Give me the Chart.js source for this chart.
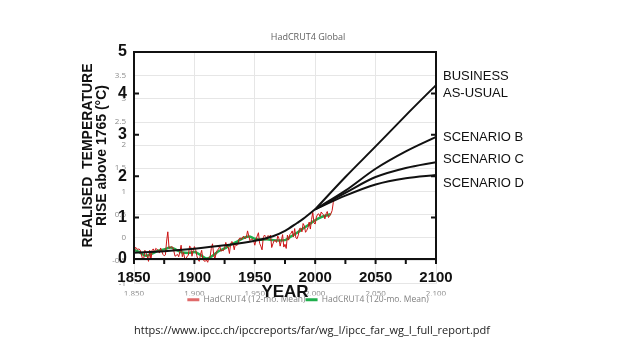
<!DOCTYPE html>
<html>
<head>
<meta charset="utf-8">
<script src="https://cdn.jsdelivr.net/npm/chart.js@4.4.1/dist/chart.umd.min.js"></script>
<style>
  body { margin: 0; background: #fff; }
  #wrap { position: relative; width: 640px; height: 360px; }
  #wrap canvas { position: absolute; left: 0; top: 0; }
  #src { position: absolute; left: 134px; top: 322px; font: 11px "Open Sans", sans-serif; color: #222; }
</style>
</head>
<body>
<div id="wrap">
  <canvas id="hadChart" width="640" height="360"></canvas>
  <canvas id="ipccChart" width="640" height="360"></canvas>
  <div id="src">https://www.ipcc.ch/ipccreports/far/wg_I/ipcc_far_wg_I_full_report.pdf</div>
</div>
<script>
// HadCRUT4 global anomaly, 12-month mean, one value per year from 1850
const hadStartYear = 1850;
const had12mo = [
  -0.37, -0.22, -0.23, -0.27, -0.25, -0.27, -0.36, -0.46, -0.47, -0.28,
  -0.34, -0.41, -0.52, -0.28, -0.49, -0.28, -0.25, -0.32, -0.24, -0.26,
  -0.28, -0.34, -0.23, -0.30, -0.37, -0.40, -0.38, -0.08, 0.12, -0.23,
  -0.23, -0.20, -0.21, -0.30, -0.41, -0.39, -0.37, -0.42, -0.31, -0.17,
  -0.42, -0.33, -0.46, -0.47, -0.41, -0.39, -0.19, -0.21, -0.41, -0.29,
  -0.20, -0.26, -0.40, -0.48, -0.52, -0.38, -0.28, -0.47, -0.51, -0.52,
  -0.49, -0.54, -0.44, -0.42, -0.24, -0.14, -0.38, -0.47, -0.33, -0.28,
  -0.25, -0.19, -0.30, -0.28, -0.29, -0.22, -0.11, -0.21, -0.21, -0.35,
  -0.14, -0.09, -0.14, -0.27, -0.13, -0.18, -0.15, -0.03, -0.01, -0.05,
  0.01, 0.02, -0.03, 0.00, 0.14, 0.03, -0.07, -0.04, -0.04, -0.07,
  -0.17, -0.05, 0.03, 0.10, -0.13, -0.19, -0.27, -0.01, 0.05, 0.02,
  -0.05, 0.04, 0.01, 0.05, -0.22, -0.14, -0.07, -0.07, -0.11, 0.03,
  -0.03, -0.19, -0.07, 0.06, -0.21, -0.15, -0.24, 0.05, -0.06, 0.06,
  0.09, 0.14, 0.01, 0.19, -0.01, -0.03, 0.05, 0.19, 0.20, 0.12,
  0.30, 0.25, 0.11, 0.15, 0.21, 0.33, 0.18, 0.39, 0.54, 0.31,
  0.29, 0.44, 0.50, 0.51, 0.45, 0.55, 0.51, 0.49, 0.40, 0.51,
  0.56, 0.43, 0.47, 0.51, 0.58, 0.76, 0.85
];

// HadCRUT4 120-month mean
const had120moYears = [1850, 1855, 1860, 1865, 1870, 1875, 1880, 1885, 1890, 1895,
  1900, 1905, 1910, 1915, 1920, 1925, 1930, 1935, 1940, 1945, 1950, 1955, 1960,
  1965, 1970, 1975, 1980, 1985, 1990, 1995, 2000, 2005, 2010, 2013];
const had120mo = [-0.27, -0.33, -0.40, -0.35, -0.29, -0.26, -0.22, -0.27, -0.33, -0.34,
  -0.32, -0.38, -0.46, -0.40, -0.30, -0.24, -0.16, -0.10, -0.02, 0.02, -0.03, -0.05, -0.04,
  -0.06, -0.07, -0.06, 0.02, 0.10, 0.19, 0.28, 0.37, 0.44, 0.48, 0.51];

// IPCC 1990 (FAR) realised temperature rise above 1765
const histYears = [1850, 1875, 1900, 1925, 1950, 1965, 1975, 1985, 1990, 2000];
const histRise = [0.15, 0.19, 0.25, 0.33, 0.44, 0.55, 0.68, 0.87, 0.97, 1.2];
const scenYears = [2000, 2025, 2050, 2075, 2100];
const bauRise = [1.2, 1.98, 2.72, 3.47, 4.2];
const scenBRise = [1.2, 1.65, 2.18, 2.6, 2.95];
const scenCRise = [1.2, 1.6, 1.98, 2.2, 2.34];
const scenDRise = [1.2, 1.53, 1.8, 1.95, 2.03];
const scenLabels = [['BUSINESS', 'AS-USUAL'], ['SCENARIO B'], ['SCENARIO C'], ['SCENARIO D']];

const toPoints = (xs, ys) => xs.map((x, i) => ({ x: x, y: ys[i] }));
const hadPoints = had12mo.map((v, i) => ({ x: hadStartYear + i, y: v }));

const grayTick = { color: '#8c8c8c', font: { family: 'Open Sans', size: 8 } };

// HadCRUT4 chart (background)
new Chart(document.getElementById('hadChart'), {
  type: 'line',
  data: {
    datasets: [
      { label: 'HadCRUT4 (12-mo. Mean)', data: hadPoints, borderColor: '#cc1414', borderWidth: 1, pointRadius: 0 },
      { label: 'HadCRUT4 (120-mo. Mean)', data: toPoints(had120moYears, had120mo), borderColor: '#1fae4c',
        borderWidth: 2.5, pointRadius: 0, cubicInterpolationMode: 'monotone' }
    ]
  },
  options: {
    responsive: false,
    animation: false,
    events: [],
    layout: { padding: { left: 0, right: 24, top: 0, bottom: 46 } },
    plugins: {
      title: { display: true, text: 'HadCRUT4 Global', color: '#5f5f5f',
        font: { family: 'Open Sans', size: 9, weight: 'normal' }, padding: { top: 32, bottom: 10 } },
      legend: {
        position: 'bottom',
        labels: {
          color: '#808080', font: { family: 'Open Sans', size: 8.5 }, boxWidth: 12, boxHeight: 3, padding: 0,
          generateLabels(chart) {
            const items = Chart.defaults.plugins.legend.labels.generateLabels(chart);
            items.forEach((it, i) => { it.fillStyle = i === 0 ? '#e06a6a' : '#1fae4c'; it.lineWidth = 0; });
            return items;
          }
        }
      },
      tooltip: { enabled: false }
    },
    scales: {
      x: {
        type: 'linear', min: 1850, max: 2100,
        ticks: { ...grayTick, stepSize: 50, padding: 5, maxRotation: 0 },
        grid: { color: '#e6e6e6', drawTicks: false },
        border: { display: false },
        afterFit: s => { s.height = 12; }
      },
      y: {
        min: -1, max: 4,
        ticks: { ...grayTick, stepSize: 0.5, padding: 8, callback: v => (v === 4 ? '' : v) },
        grid: { color: '#e6e6e6', drawTicks: false },
        border: { display: false },
        afterFit: s => { s.width = 134; }
      },
      yR: {
        position: 'right', display: true,
        ticks: { display: false }, grid: { display: false }, border: { display: false },
        afterFit: s => { s.width = 180; }
      }
    }
  }
});

// frame, inside ticks and scenario names of the IPCC figure
const ipccFrame = {
  id: 'ipccFrame',
  afterDraw(chart) {
    const { ctx, chartArea: a } = chart;
    const { x, y } = chart.scales;
    ctx.save();
    ctx.strokeStyle = '#111';
    ctx.lineWidth = 2;
    ctx.strokeRect(a.left, a.top, a.right - a.left, a.bottom - a.top);
    ctx.beginPath();
    y.ticks.forEach(t => {
      const py = y.getPixelForValue(t.value);
      ctx.moveTo(a.left, py); ctx.lineTo(a.left + 5, py);
      ctx.moveTo(a.right, py); ctx.lineTo(a.right - 5, py);
    });
    x.ticks.forEach(t => {
      const px = x.getPixelForValue(t.value);
      ctx.moveTo(px, a.bottom); ctx.lineTo(px, a.bottom + 5);
    });
    ctx.stroke();

    const ends = [bauRise, scenBRise, scenCRise, scenDRise].map(s => s[s.length - 1]);
    const dy = [-9, 1, -3, 8];
    ctx.fillStyle = '#111';
    ctx.font = '13px "Liberation Sans"';
    ctx.textBaseline = 'middle';
    scenLabels.forEach((lines, i) => {
      const py = y.getPixelForValue(ends[i]) + dy[i];
      lines.forEach((txt, j) => ctx.fillText(txt, a.right + 7, py + j * 17));
    });
    ctx.restore();
  }
};

const blackLine = { borderColor: '#111', borderWidth: 2, pointRadius: 0, cubicInterpolationMode: 'monotone' };

// IPCC FAR figure (overlay)
new Chart(document.getElementById('ipccChart'), {
  type: 'line',
  data: {
    datasets: [
      { label: 'Observed', data: toPoints(histYears, histRise), ...blackLine },
      { label: 'Business-as-usual', data: toPoints(scenYears, bauRise), ...blackLine },
      { label: 'Scenario B', data: toPoints(scenYears, scenBRise), ...blackLine },
      { label: 'Scenario C', data: toPoints(scenYears, scenCRise), ...blackLine },
      { label: 'Scenario D', data: toPoints(scenYears, scenDRise), ...blackLine }
    ]
  },
  options: {
    responsive: false,
    animation: false,
    events: [],
    layout: { padding: { left: 0, right: 204, top: 52, bottom: 56 } },
    plugins: { legend: { display: false }, tooltip: { enabled: false } },
    scales: {
      x: {
        type: 'linear', min: 1850, max: 2100,
        ticks: {
          stepSize: 25, autoSkip: false, maxRotation: 0, padding: 10, color: '#111',
          font: { family: 'Liberation Sans', size: 15, weight: 'bold' },
          callback: v => (v % 50 === 0 ? v : '')
        },
        grid: { display: false, drawTicks: false },
        border: { display: false },
        title: { display: true, text: 'YEAR', color: '#111',
          font: { family: 'Liberation Sans', size: 17, weight: 'bold', lineHeight: 1 }, padding: { top: 0, bottom: 3 } },
        afterFit: s => { s.height = 45; }
      },
      y: {
        min: 0, max: 5,
        ticks: {
          stepSize: 0.5, padding: 7, color: '#111',
          font: { family: 'Liberation Sans', size: 16, weight: 'bold' },
          callback: v => (Number.isInteger(v) ? v : '')
        },
        grid: { display: false, drawTicks: false },
        border: { display: false },
        title: { display: true, text: ['REALISED  TEMPERATURE', 'RISE above 1765 (°C)'], color: '#111',
          font: { family: 'Liberation Sans', size: 14, weight: 'bold', lineHeight: 1 }, padding: { top: 81, bottom: 0 } },
        afterFit: s => { s.width = 134; }
      }
    }
  },
  plugins: [ipccFrame]
});
</script>
</body>
</html>
